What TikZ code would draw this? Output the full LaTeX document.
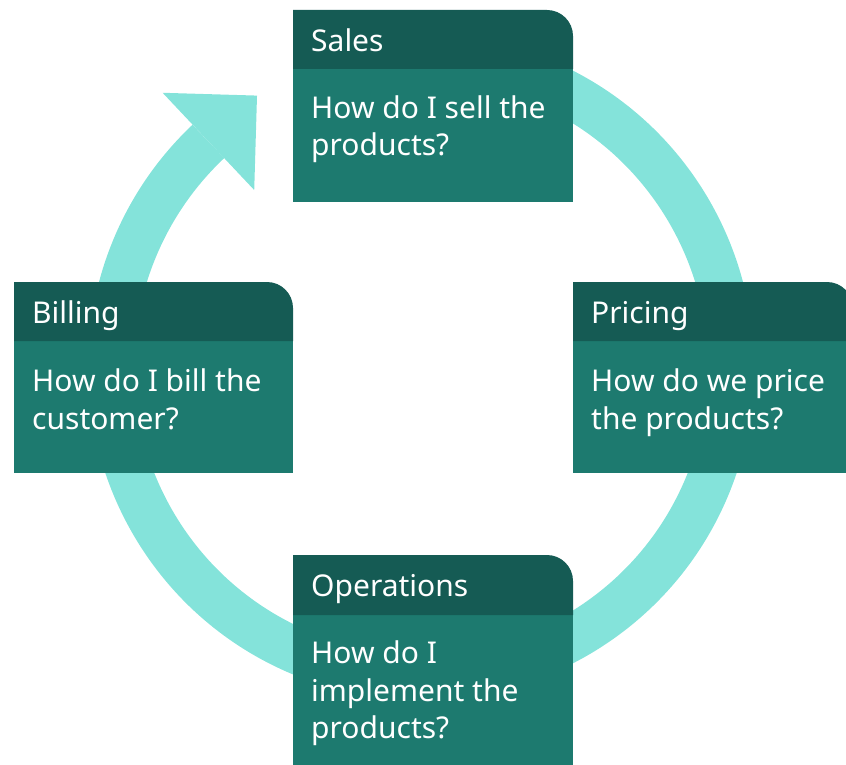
\documentclass[tikz,border=0pt]{standalone}
\usepackage{fontspec}
\setmainfont{Noto Sans}
\usetikzlibrary{calc}

\definecolor{ringteal}{HTML}{84E3DA}
\definecolor{cardhead}{HTML}{155B54}
\definecolor{cardbody}{HTML}{1D7A6F}

% one stage card: left x, top y, right x, header bottom y, body bottom y, name
\newcommand\stagecard[6]{%
  \fill[cardbody] (#1,-#4) rectangle (#3,-#5);
  \fill[cardhead] (#1,-#4) -- (#1,-#2) -- ($(#3,-#2)+(-26,0)$)
    arc[start angle=90,end angle=0,radius=26] -- (#3,-#4) -- cycle;
  \coordinate (#6) at (#1,-#2);
}

\begin{document}
\begin{tikzpicture}[x=1pt,y=1pt,
  cardtitle/.style={anchor=base west,inner sep=0pt,text=white,
    font=\fontsize{30}{37.5}\selectfont},
  cardtext/.style={anchor=base west,inner sep=0pt,text=white,align=left,
    font=\fontsize{30}{37.5}\selectfont}]
\useasboundingbox (0,0) rectangle (846,-765);
\clip (0,0) rectangle (846,-765);

% cycle ring with its arrow head
\coordinate (c) at (421,-367);
\draw[ringteal,line width=46pt] ($(c)+(70:310)$) arc[start angle=70,end angle=-226.7,radius=310];
\fill[ringteal] ($(c)+(133.3:376.8)$) -- ($(c)+(133.3:310)+(43.3:66.8)$)
  -- ($(c)+(133.3:243.2)$) -- cycle;

% stage cards
\stagecard{293}{10}{573}{69}{202}{sales}
\stagecard{573}{282}{853}{341}{473}{pricing}
\stagecard{14}{282}{293}{341}{473}{billing}
\stagecard{293}{555}{573}{615}{800}{operations}

% titles sit on their first baseline, questions on their last one
\node[cardtitle] (salesT) at ($(sales)+(18,-42)$) {Sales};
\node[cardtext] (salesQ) at ($(sales)+(18,-146)$) {How do I sell the\\products?};

\node[cardtitle] (pricingT) at ($(pricing)+(18,-41)$) {Pricing};
\node[cardtext] (pricingQ) at ($(pricing)+(18,-147)$) {How do we price\\the products?};

\node[cardtitle] (billingT) at ($(billing)+(18,-41)$) {Billing};
\node[cardtext] (billingQ) at ($(billing)+(18,-147)$) {How do I bill the\\customer?};

\node[cardtitle] (operationsT) at ($(operations)+(18,-41.5)$) {Operations};
\node[cardtext] (operationsQ) at ($(operations)+(18,-183.5)$) {How do I\\implement the\\products?};
\end{tikzpicture}
\end{document}
